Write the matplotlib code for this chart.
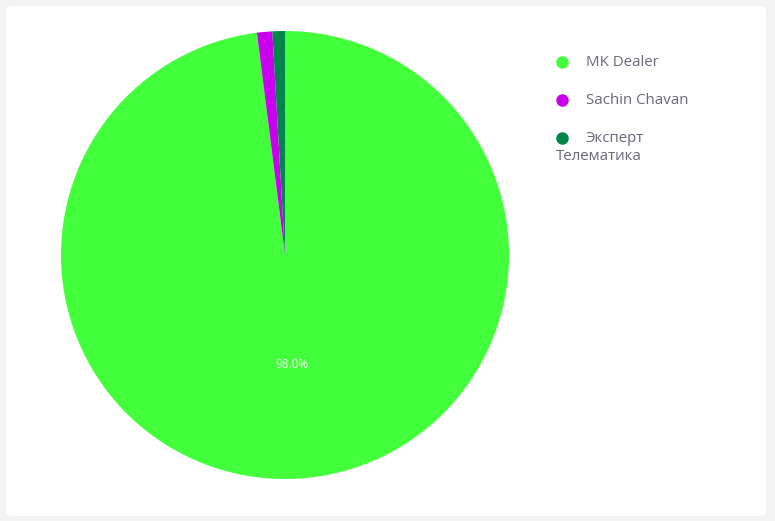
import matplotlib
matplotlib.use('Agg')
import matplotlib.pyplot as plt
from matplotlib.patches import FancyBboxPatch

plt.rcParams['font.family'] = ['Open Sans', 'DejaVu Sans']

labels = ['MK Dealer', 'Sachin Chavan', 'Эксперт\nТелематика']
values = [98.0, 1.1, 0.9]
colors = ['#43ff3b', '#c800ee', '#00864a']

W, H = 775, 521
fig = plt.figure(figsize=(W / 100, H / 100), dpi=100)
fig.patch.set_facecolor('#f3f3f3')

# white card
card = FancyBboxPatch((6 / W, 5 / H), (766 - 6) / W, (521 - 5 - 6) / H,
                      boxstyle='round,pad=0,rounding_size=0.008',
                      transform=fig.transFigure, facecolor='white',
                      edgecolor='none', zorder=-5)
fig.patches.append(card)

cx, cy, r = 285, 255, 224
ax = fig.add_axes([(cx - r) / W, (H - cy - r) / H, 2 * r / W, 2 * r / H])
ax.set_zorder(2)
ax.patch.set_visible(False)
ax.axis('off')

wedges, texts, autotexts = ax.pie(
    values, colors=colors, startangle=90, counterclock=False, radius=1,
    autopct=lambda p: f'{p:.1f}%' if p > 5 else '', pctdistance=0.49,
    textprops=dict(color='white', fontsize=8.5), frame=False)
ax.set_xlim(-1, 1)
ax.set_ylim(-1, 1)

# legend
ly = [62, 100, 138]
for lab, col, y in zip(labels, colors, ly):
    fig.add_artist(plt.Line2D([562 / W], [1 - y / H], marker='o', markersize=8,
                              color=col, linestyle='none', transform=fig.transFigure,
                              zorder=3))
    parts = lab.split('\n')
    fig.text(586 / W, 1 - y / H, parts[0], fontsize=10.8, color='#6b6878',
             va='center', ha='left', zorder=3)
    for i, extra in enumerate(parts[1:], start=1):
        fig.text(556 / W, 1 - (y + 19 * i) / H, extra, fontsize=10.8,
                 color='#6b6878', va='center', ha='left', zorder=3)

fig.savefig('out.png', dpi=100, facecolor=fig.get_facecolor())
